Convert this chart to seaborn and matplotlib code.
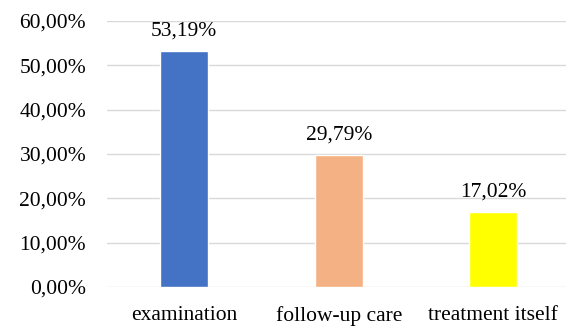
import matplotlib
matplotlib.use("Agg")
import matplotlib.pyplot as plt
import seaborn as sns
import pandas as pd
from matplotlib.ticker import FuncFormatter

categories = ["examination", "follow-up care", "treatment itself"]
values = [53.19, 29.79, 17.02]
colors = ["#4472C4", "#F4B183", "#FFFF00"]
yticks = [0, 10, 20, 30, 40, 50, 60]

sns.set_theme(style="white")
plt.rcParams["font.family"] = ["Liberation Serif", "DejaVu Serif"]

df = pd.DataFrame({"cat": categories, "val": values})

fig = plt.figure(figsize=(5.66, 3.27), dpi=100)
ax = fig.add_axes([107 / 566, (327 - 287) / 327, (566 - 107) / 566, (287 - 21) / 327])

sns.barplot(data=df, x="cat", y="val", hue="cat", palette=colors, legend=False,
            width=0.31, ax=ax, saturation=1, zorder=3)

ax.set_ylim(0, 60)
ax.set_xlim(-0.5, 2.47)
ax.set_yticks(yticks)
ax.yaxis.set_major_formatter(FuncFormatter(lambda v, p: f"{v:.2f}%".replace(".", ",")))
ax.grid(axis="y", color="#D9D9D9", linewidth=1.0, zorder=0)
ax.grid(axis="x", visible=False)
for s in ax.spines.values():
    s.set_visible(False)
ax.tick_params(axis="both", length=0, labelsize=15.5, colors="#000000")
ax.tick_params(axis="y", pad=15)
ax.tick_params(axis="x", pad=14)
ax.set_xlabel("")
ax.set_ylabel("")

for i, v in enumerate(values):
    ax.annotate(f"{v:.2f}%".replace(".", ","), (i, v), xytext=(0, 7.5),
                textcoords="offset points", ha="center", va="bottom",
                fontsize=15.5, color="#000000", annotation_clip=False)

fig.savefig("out.png", dpi=100)
